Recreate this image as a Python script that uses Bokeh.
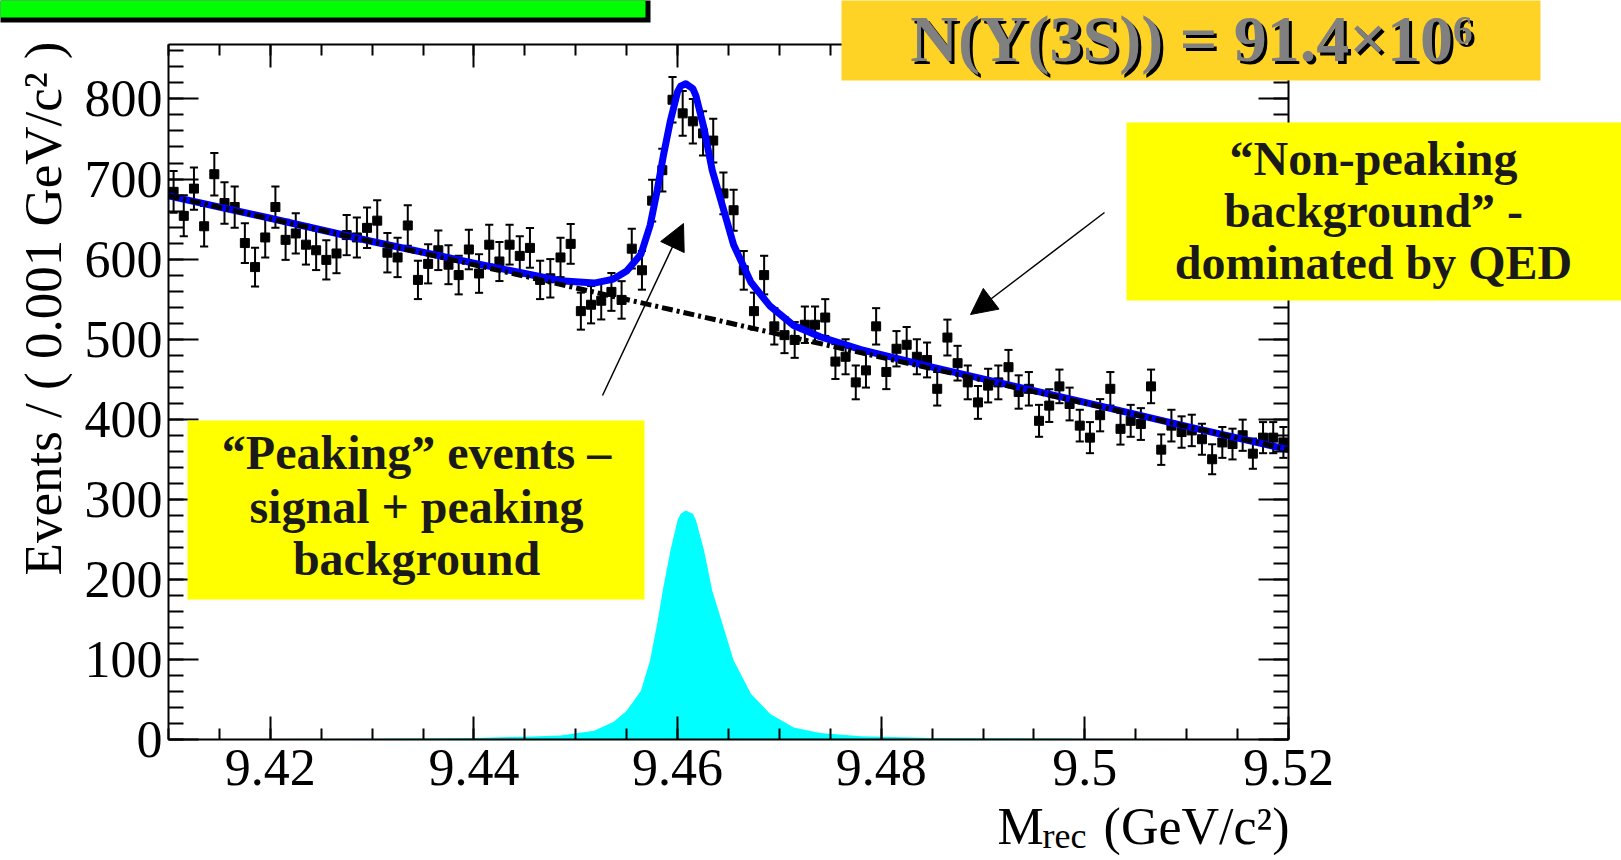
import numpy as np
from bokeh.plotting import figure
from bokeh.models import (Range1d, FixedTicker, LinearAxis, Label, BoxAnnotation,
                          Arrow, NormalHead, ColumnDataSource)
from bokeh.embed import file_html
from bokeh.resources import INLINE

# ---------------- data ----------------
bin_lo = 9.41
bin_width = 0.001
counts = [684, 654, 688, 641, 706, 670, 665, 620, 590, 627,
          665, 624, 632, 618, 611, 599, 607, 630, 627, 639,
          648, 608, 602, 642, 574, 594, 611, 593, 580, 612,
          582, 618, 597, 618, 604, 614, 574, 576, 602, 619,
          535, 543, 548, 559, 549, 613, 586, 673, 711, 799,
          782, 772, 757, 748, 682, 661, 586, 535, 580, 516,
          505, 499, 518, 518, 527, 472, 478, 446, 461, 516,
          459, 488, 493, 478, 474, 438, 502, 470, 446, 421,
          442, 446, 465, 434, 438, 398, 417, 441, 419, 392,
          377, 405, 438, 388, 398, 394, 441, 362, 392, 384,
          386, 375, 350, 371, 369, 380, 357, 377, 377, 371]

# peaking (signal) component
sig_x = [9.410, 9.420, 9.430, 9.440, 9.445, 9.4485, 9.4518, 9.4537, 9.4550, 9.4564,
         9.4573, 9.4580, 9.4586, 9.4593, 9.4600, 9.4603, 9.4608, 9.4615, 9.4618, 9.4626,
         9.4634, 9.4644, 9.4655, 9.4672, 9.4691, 9.4714, 9.4740, 9.4780, 9.4850, 9.5000,
         9.5100, 9.5200]
sig_y = [0.3, 0.5, 1, 2, 3.5, 5, 11, 22, 36, 61,
         99, 145, 190, 236, 274, 282, 286, 282, 274, 236,
         186, 145, 99, 57, 32, 15, 8, 4, 2, 1,
         0.5, 0.3]

# total fit
fit_x = sig_x
fit_y = [679, 651, 622, 595, 582, 573, 570, 575, 585, 606,
         642, 686, 729, 773, 809, 816, 819, 813, 804, 763,
         711, 667, 618, 571, 541, 517, 503, 487, 465, 421,
         391, 362]

# non-peaking background component
bg_x = [9.41, 9.44, 9.47, 9.50, 9.52]
bg_y = [679, 593, 506, 420, 362]

x_lim = (9.41, 9.52)
y_lim = (0, 868)
x_ticks = [9.42, 9.44, 9.46, 9.48, 9.50, 9.52]
x_tick_labels = ["9.42", "9.44", "9.46", "9.48", "9.5", "9.52"]
y_ticks = [0, 100, 200, 300, 400, 500, 600, 700, 800]
y_tick_labels = ["0", "100", "200", "300", "400", "500", "600", "700", "800"]

# ---------------- layout (pixels) ----------------
W, H = 1621, 860
FL, FR, FT, FB = 168, 1288, 44, 739      # data-frame edges on the canvas
kx = (x_lim[1] - x_lim[0]) / (FR - FL)
ky = (y_lim[1] - y_lim[0]) / (FB - FT)
x_range = Range1d(x_lim[0] - FL * kx, x_lim[1] + (W - FR) * kx)
y_range = Range1d(y_lim[0] - (H - FB) * ky, y_lim[1] + FT * ky)

SERIF = "Liberation Serif"
p = figure(width=W, height=H, output_backend="svg", toolbar_location=None,
           x_range=x_range, y_range=y_range,
           x_axis_location=None, y_axis_location=None,
           min_border=0, min_border_left=0, min_border_right=0,
           min_border_top=0, min_border_bottom=0)
p.outline_line_color = None
p.background_fill_color = "white"
p.border_fill_color = "white"
p.grid.visible = False

x_minor = list(np.round(np.arange(9.41, 9.5201, 0.005), 4))
y_minor = list(range(0, 861, 20))


def make_axis(ticks, minor, labels, maj_len, min_len, show, loc, bounds):
    ax = LinearAxis(ticker=FixedTicker(ticks=ticks, minor_ticks=minor),
                    fixed_location=loc, bounds=bounds)
    ax.major_tick_in = maj_len
    ax.major_tick_out = 0
    ax.minor_tick_in = min_len
    ax.minor_tick_out = 0
    ax.axis_line_width = 2
    ax.axis_line_color = "black"
    ax.major_tick_line_width = 2
    ax.minor_tick_line_width = 2
    ax.major_tick_line_color = "black"
    ax.minor_tick_line_color = "black"
    ax.major_label_text_font = SERIF
    ax.major_label_text_font_size = "52px"
    ax.major_label_text_color = "black"
    if show:
        ax.major_label_overrides = {t: l for t, l in zip(ticks, labels)}
    else:
        ax.major_label_overrides = {t: "" for t in ticks}
    return ax


ax_b = make_axis(x_ticks, x_minor, x_tick_labels, 23, 11, True, y_lim[0], x_lim)
ax_b.major_label_standoff = 10
ax_t = make_axis(x_ticks, x_minor, x_tick_labels, 23, 11, False, y_lim[1], x_lim)
ax_l = make_axis(y_ticks, y_minor, y_tick_labels, 30, 15, True, x_lim[0], y_lim)
ax_l.major_label_standoff = 6
ax_r = make_axis(y_ticks, y_minor, y_tick_labels, 30, 15, False, x_lim[1], y_lim)
p.add_layout(ax_b, "below")
p.add_layout(ax_t, "above")
p.add_layout(ax_l, "left")
p.add_layout(ax_r, "right")

# ---------------- marks ----------------
xc = bin_lo + bin_width * (np.arange(len(counts)) + 0.5)
yv = np.array(counts, dtype=float)
err = np.sqrt(yv)
src = ColumnDataSource(dict(x=xc, y=yv, lo=yv - err, hi=yv + err,
                            xl=xc - 0.0004, xr=xc + 0.0004))

p.varea(x=sig_x, y1=0, y2=sig_y, fill_color="#00FFFF", fill_alpha=1.0)

p.segment(x0="x", y0="lo", x1="x", y1="hi", source=src, line_color="black", line_width=2)
p.segment(x0="xl", y0="lo", x1="xr", y1="lo", source=src, line_color="black", line_width=2)
p.segment(x0="xl", y0="hi", x1="xr", y1="hi", source=src, line_color="black", line_width=2)
p.scatter(x="x", y="y", source=src, marker="square", size=9,
          fill_color="black", line_color="black")

p.line(fit_x, fit_y, line_color="#0000FF", line_width=7, line_join="round")
p.line(bg_x, bg_y, line_color="black", line_width=5, line_dash="11 4 3 4")

# ---------------- annotations (canvas pixels) ----------------
def box(l, r, t, b, color, line=None, lw=0):
    ba = BoxAnnotation(left=l, right=r, top=t, bottom=b,
                       left_units="canvas", right_units="canvas",
                       top_units="canvas", bottom_units="canvas",
                       fill_color=color, fill_alpha=1.0,
                       line_color=line, line_width=lw, level="annotation")
    p.add_layout(ba)


def label(x, y, text, size, bold=False, color="#1a1a1a", align="center",
          angle=0.0):
    # y is the wanted baseline; the label anchor sits ~0.4 em above it
    lb = Label(x=x, y=y - 0.4 * size if angle == 0 else y,
               x_units="canvas", y_units="canvas", text=text,
               text_font=SERIF, text_font_size=f"{size}px",
               text_font_style="bold" if bold else "normal",
               text_color=color, text_align=align, text_baseline="alphabetic",
               angle=angle)
    p.add_layout(lb)


box(-5, 650, -5, 22, "black")
box(-5, 645, -5, 17, "#00FF00")
box(841, 1540, -2, 80, "#FFD325")
box(1126, 1625, 122, 300, "#FFFF00")
box(187, 644, 420, 599, "#FFFF00")

label(1194, 67, "N(\u03a5(3S)) = 91.4\u00d710\u2076", 66, True, "black")
label(1191, 64, "N(\u03a5(3S)) = 91.4\u00d710\u2076", 66, True, "#808080")

label(1373, 177, "\u201cNon-peaking", 48, True)
label(1373, 229, "background\u201d -", 48, True)
label(1373, 281, "dominated by QED", 48, True)

label(416, 471, "\u201cPeaking\u201d events \u2013", 48, True)
label(416, 525, "signal + peaking", 48, True)
label(416, 577, "background", 48, True)

# axis titles
label(42, 41, "Events / ( 0.001 GeV/c\u00b2 )", 53, False, "black", "right", np.pi / 2)
label(997, 847, "M", 52, False, "black", "left")
label(1042, 850, "rec", 36, False, "black", "left")
label(1289, 847, "(GeV/c\u00b2)", 52, False, "black", "right")

# arrows
p.add_layout(Arrow(x_start=602, y_start=395, x_end=683, y_end=223,
                   start_units="canvas", end_units="canvas",
                   line_color="black", line_width=1.5,
                   end=NormalHead(size=26, fill_color="black", line_color="black")))
p.add_layout(Arrow(x_start=1104, y_start=212, x_end=970, y_end=314,
                   start_units="canvas", end_units="canvas",
                   line_color="black", line_width=1.5,
                   end=NormalHead(size=26, fill_color="black", line_color="black")))

open("out.html", "w").write(file_html(p, INLINE))
